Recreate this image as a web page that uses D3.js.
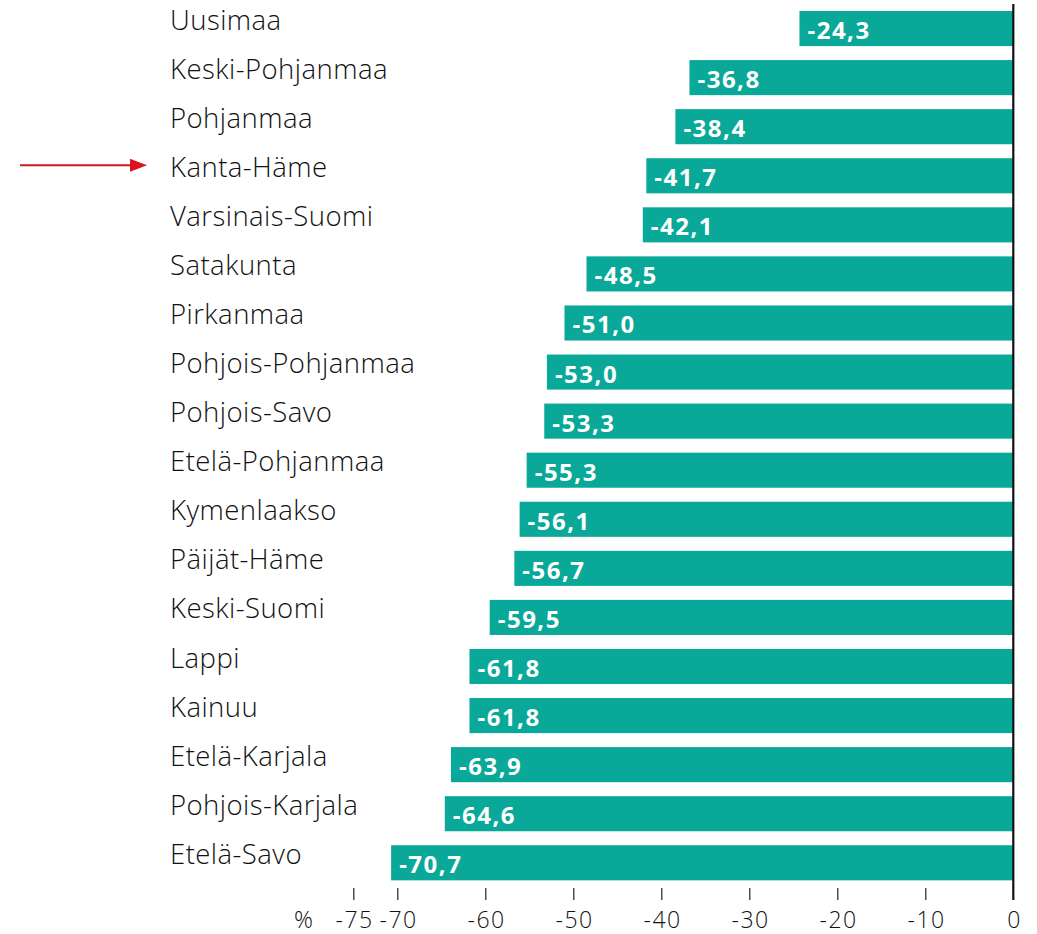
<!DOCTYPE html>
<html><head><meta charset="utf-8">
<script src="https://cdn.jsdelivr.net/npm/d3@7"></script>
<style>body{margin:0;background:#fff}svg{display:block}</style>
</head><body><svg id="c" width="1037" height="934"></svg>
<script>
const regions = ["Uusimaa","Keski-Pohjanmaa","Pohjanmaa","Kanta-Häme","Varsinais-Suomi","Satakunta","Pirkanmaa","Pohjois-Pohjanmaa","Pohjois-Savo","Etelä-Pohjanmaa","Kymenlaakso","Päijät-Häme","Keski-Suomi","Lappi","Kainuu","Etelä-Karjala","Pohjois-Karjala","Etelä-Savo"];
const values = [-24.3,-36.8,-38.4,-41.7,-42.1,-48.5,-51.0,-53.0,-53.3,-55.3,-56.1,-56.7,-59.5,-61.8,-61.8,-63.9,-64.6,-70.7];
const tickValues = [-75,-70,-60,-50,-40,-30,-20,-10,0];
const highlighted = "Kanta-Häme";

const svg = d3.select("#c");
const x = d3.scaleLinear().domain([-75,0]).range([353.3,1013.3]);
const y = d3.scaleBand().domain(regions).range([11-0.14*49.06, 11+18*49.06-0.14*49.06]).paddingInner(0.285).paddingOuter(0.14);
const teal = "#0aa898";
svg.append("g").selectAll("rect").data(regions).join("rect")
  .attr("x", (d,i)=>x(values[i])).attr("y", d=>y(d))
  .attr("width", (d,i)=>x(0)-x(values[i])).attr("height", y.bandwidth())
  .attr("fill", teal);
svg.append("g").selectAll("text").data(regions).join("text")
  .attr("x", (d,i)=>x(values[i])+8).attr("y", d=>y(d)+y.bandwidth()/2+10.5)
  .attr("fill","#fff").attr("font-family","'Open Sans'").attr("font-weight",700).attr("font-size",24)
  .attr("letter-spacing",1.5)
  .text((d,i)=>d3.format(".1f")(values[i]).replace(".",",").replace("−","-"));
svg.append("g").selectAll("text").data(regions).join("text")
  .attr("x",170).attr("y", d=>y(d)+y.bandwidth()/2+1)
  .attr("fill","#111").attr("font-family","'Open Sans'").attr("font-weight",300).attr("font-size",27.5)
  .attr("letter-spacing",0.45)
  .text(d=>d);
svg.append("line").attr("x1",x(0)).attr("x2",x(0)).attr("y1",4).attr("y2",900)
  .attr("stroke","#111").attr("stroke-width",2.2);
const axis = d3.axisBottom(x).tickValues(tickValues).tickSize(12).tickPadding(16).tickFormat(d=>String(d).replace("−","-"));
const ag = svg.append("g").attr("transform","translate(0,888)").call(axis);
ag.select(".domain").remove();
ag.selectAll(".tick line").attr("stroke","#333").attr("stroke-width",1.3)
  .filter(d=>d===0).remove();
ag.selectAll(".tick text").attr("y",39.5).attr("dy",0).attr("dx",0.8)
  .attr("font-family","'Open Sans'").attr("font-weight",300).attr("font-size",23).attr("letter-spacing",1.6).attr("fill","#111");
svg.append("text").attr("x",294).attr("y",927.5).attr("font-family","'Open Sans'").attr("font-weight",300).attr("font-size",23.5).attr("fill","#111").text("%");
const ay = y(highlighted)+y.bandwidth()/2-10.5;
svg.append("line").attr("x1",20).attr("x2",132).attr("y1",ay).attr("y2",ay).attr("stroke","#d7141f").attr("stroke-width",2);
svg.append("path").attr("d",`M130,${ay-6.5}L147,${ay}L130,${ay+6.5}Z`).attr("fill","#d7141f");
</script></body></html>
